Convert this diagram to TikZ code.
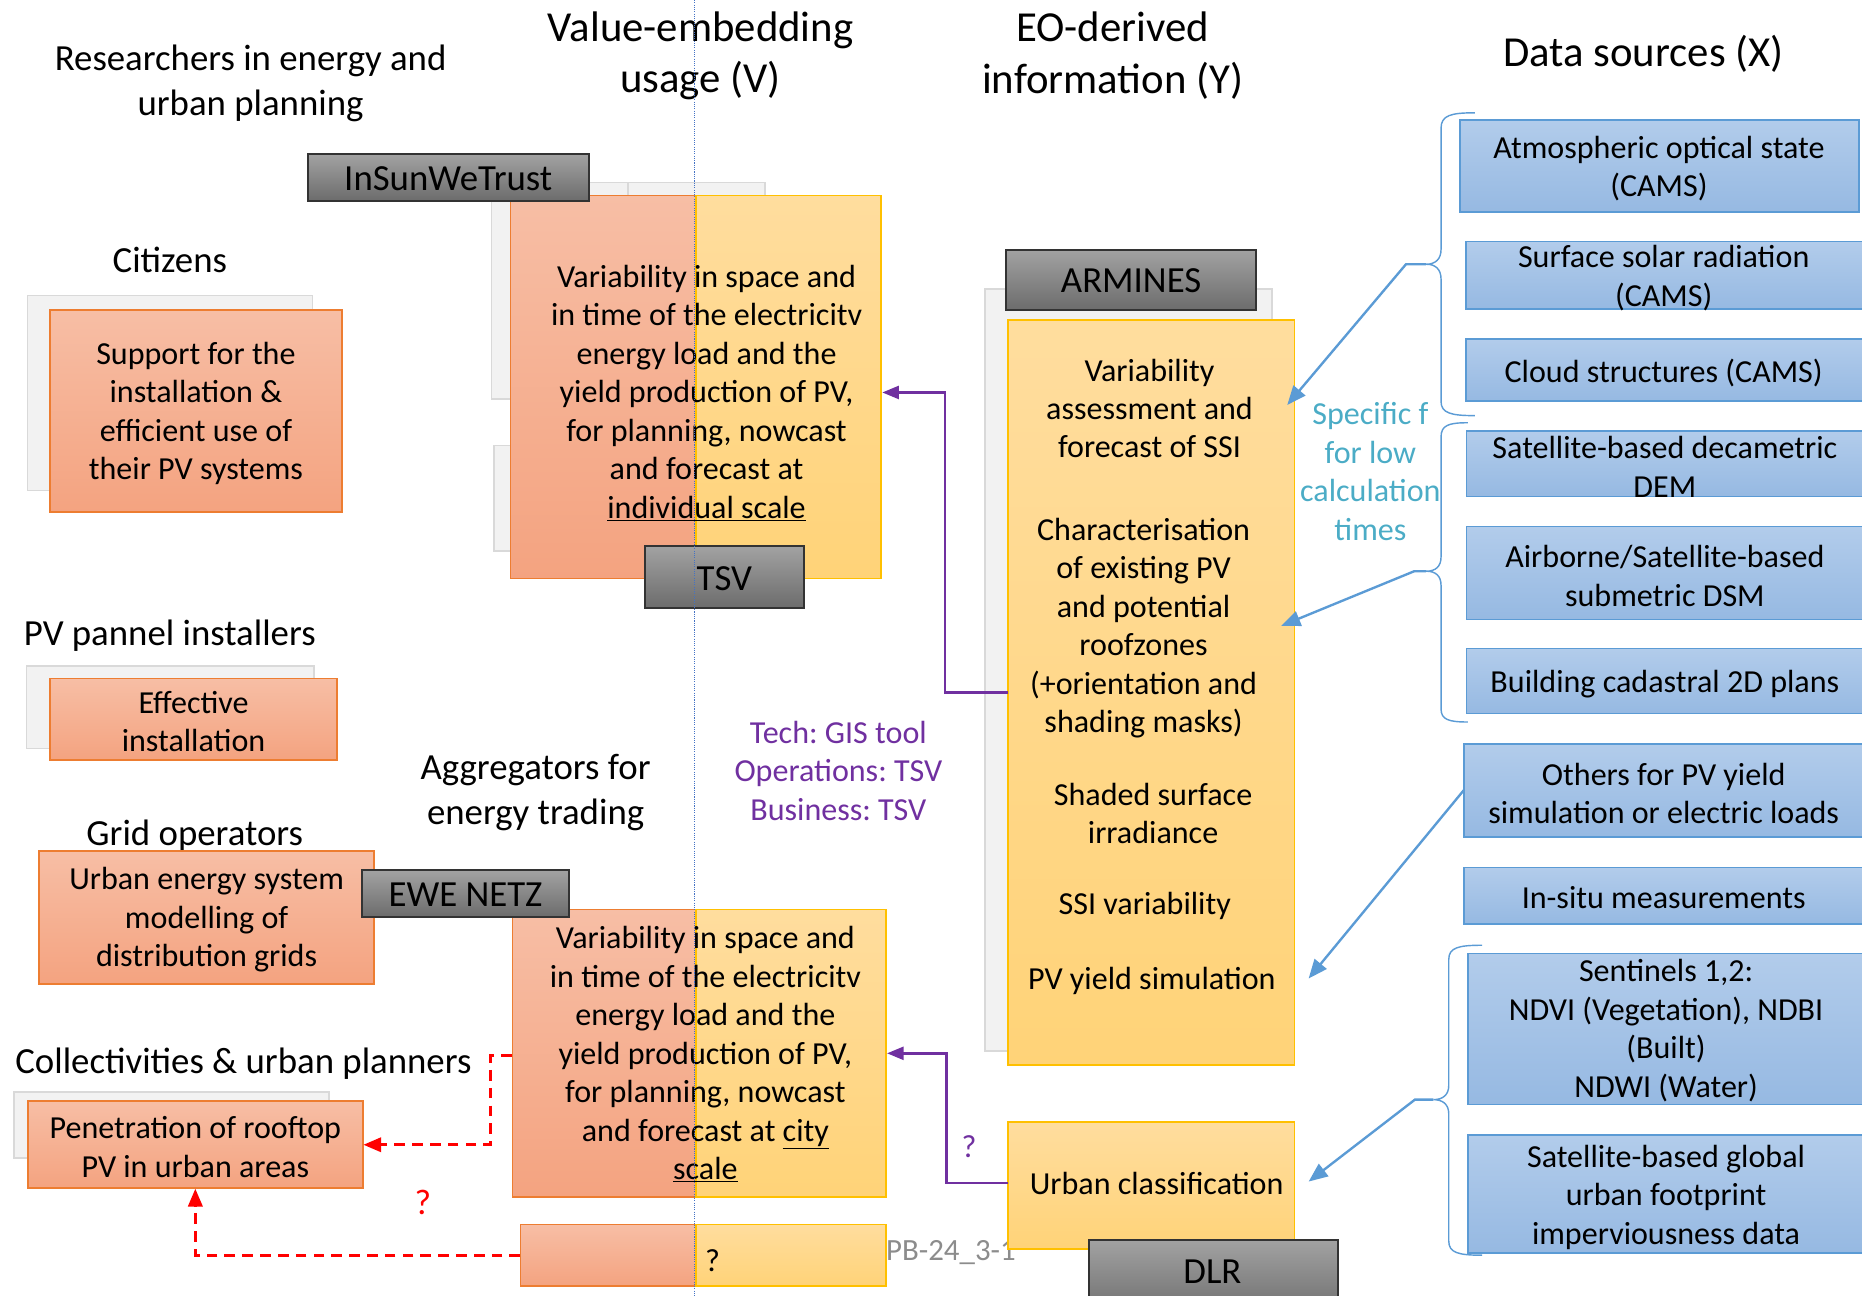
\documentclass[tikz,border=0pt]{standalone}
\usepackage{fontspec}
\setmainfont{Carlito}
\frenchspacing
\usetikzlibrary{arrows.meta,fit,calc}
\definecolor{salT}{RGB}{247,190,165}
\definecolor{salB}{RGB}{244,163,128}
\definecolor{salD}{RGB}{237,125,49}
\definecolor{yelT}{RGB}{255,221,158}
\definecolor{yelB}{RGB}{255,211,120}
\definecolor{yelD}{RGB}{255,192,0}
\definecolor{bluT}{RGB}{178,204,235}
\definecolor{bluB}{RGB}{150,185,226}
\definecolor{bluD}{RGB}{91,155,213}
\definecolor{labT}{RGB}{162,162,162}
\definecolor{labB}{RGB}{108,108,108}
\definecolor{shd}{RGB}{242,242,242}
\definecolor{shdD}{RGB}{217,217,217}
\definecolor{purp}{RGB}{112,48,160}
\definecolor{tealc}{RGB}{75,172,198}
\definecolor{dotb}{RGB}{68,114,196}
\definecolor{pbgray}{RGB}{140,140,140}
\tikzset{
  box/.style={inner sep=0pt, outer sep=0pt, line width=1.3pt},
  redbox/.style={box, draw=salD, top color=salT, bottom color=salB},
  yelbox/.style={box, draw=yelD, top color=yelT, bottom color=yelB},
  blubox/.style={box, draw=bluD, top color=bluT, bottom color=bluB},
  labbox/.style={box, draw=black!80, line width=1.6pt, top color=labT, bottom color=labB},
  shbox/.style={box, draw=shdD, fill=shd},
  body/.style={font=\fontsize{27}{32.4}\selectfont, align=center, inner sep=0pt, yshift=-2pt},
  head/.style={font=\fontsize{31}{38}\selectfont, align=center, inner sep=0pt, yshift=-2.5pt},
  big/.style={font=\fontsize{36}{43.5}\selectfont, align=center, inner sep=0pt, yshift=-2pt},
  labtxt/.style={font=\fontsize{31}{37}\selectfont, inner sep=0pt, yshift=-1pt},
  barrow/.style={draw=bluD, line width=2pt, -{Triangle[length=16pt,width=13pt]}},
  parrow/.style={draw=purp, line width=2pt, -{Triangle[length=14pt,width=11pt]}},
  rarrow/.style={draw=red, line width=2.5pt, dash pattern=on 9pt off 6pt, -{Triangle[length=15pt,width=12pt]}},
  bracel/.style={draw=bluD, line width=1.2pt},
}
\begin{document}
\begin{tikzpicture}[x=1pt,y=-1pt]
\useasboundingbox (0,0) rectangle (1568,1091);

% headers
\node[head] (hres) at (211,68) {Researchers in energy and\\urban planning};
\node[big] (hval) at (590,45) {Value-embedding\\usage (V)};
\node[big] (heo) at (937,45) {EO-derived\\information (Y)};
\node[big] (hdata) at (1384,43) {Data sources (X)};

% dotted vertical line
\coordinate (dtop) at (585,0);
\coordinate (dbot) at (585,1091);

% ---- left column ----
\node[head] (hcit) at (143,216) {Citizens};
\node[shbox, fit={(23,249) (263,413)}] (shcit) {};
\node[redbox, fit={(42,261) (288,431)}] (support) {};
\node[body] (tsupport) at (support.center) {Support for the\\installation \&\\efficient use of\\their PV systems};

\node[head] (hpv) at (143,533) {PV pannel installers};
\node[shbox, fit={(22.5,561) (264.5,630.5)}] (shpv) {};
\node[redbox, fit={(42,571.5) (284,640)}] (effect) {};
\node[body] (teffect) at (effect.center) {Effective\\installation};

\node[head] (hagg) at (451,665) {Aggregators for\\energy trading};

\node[head] (hgrid) at (164,701) {Grid operators};
\node[redbox, fit={(33,716.5) (315,828.5)}] (grid) {};
\node[body] (tgrid) at (grid.center) {Urban energy system\\modelling of\\distribution grids};

\node[head] (hcol) at (205,893) {Collectivities \& urban planners};
\node[shbox, fit={(12,919.5) (277,975)}] (shcol) {};
\node[redbox, fit={(23.5,927) (305.5,1000.5)}] (pen) {};
\node[body] (tpen) at (pen.center) {Penetration of rooftop\\PV in urban areas};

% ---- V column top ----
\node[shbox, fit={(414,153.5) (529,336)}] (shv1) {};
\node[shbox, fit={(529,153.5) (644,300)}] (shv2) {};
\node[shbox, fit={(416,375) (530,464)}] (shv3) {};
\node[redbox, fit={(430,164.5) (586,487)}] (tsvR) {};
\node[yelbox, fit={(586,164.5) (742,487)}] (tsvY) {};
\node[body] (ttsv) at (595,329) {Variability in space and\\in time of the electricitv\\energy load and the\\yield production of PV,\\for planning, nowcast\\and forecast at\\\underline{individual scale}};
\node[labbox, fit={(259,130) (496,169)}] (insun) {};
\node[labtxt] (tinsun) at (insun.center) {InSunWeTrust};
\node[labbox, fit={(543,460) (677,512)}] (tsvlab) {};
\node[labtxt] (ttsvlab) at (tsvlab.center) {TSV};

% ---- V column bottom ----
\node[redbox, fit={(431.5,766) (586,1008)}] (cityR) {};
\node[yelbox, fit={(586,766) (746,1008)}] (cityY) {};
\node[body] (tcity) at (594,886) {Variability in space and\\in time of the electricitv\\energy load and the\\yield production of PV,\\for planning, nowcast\\and forecast at \underline{city}\\\underline{scale}};
\node[labbox, fit={(305,733) (479,772)}] (ewe) {};
\node[labtxt] (tewe) at (ewe.center) {EWE NETZ};

\node[redbox, fit={(438.5,1031) (586,1083)}] (qR) {};
\node[yelbox, fit={(586,1031) (746,1083)}] (qY) {};
\node[body] (tq) at (600,1060) {?};
\node[font=\fontsize{26}{30}\selectfont, text=pbgray, anchor=west, inner sep=0pt] (pb) at (746,1055) {PB-24\_3-1};

\node[body, text=purp] (tech) at (706,647) {Tech: GIS tool\\Operations: TSV\\Business: TSV};

\draw[dotb, line width=0.9pt, densely dotted] (dtop) -- (dbot);

% ---- Y column ----
\node[shbox, fit={(829.5,243.5) (1071,885)}] (shy) {};
\node[yelbox, fit={(849,269.5) (1090,897)}] (armY) {};
\node[labbox, fit={(847,210.5) (1058,261)}] (arm) {};
\node[labtxt] (tarm) at (arm.center) {ARMINES};
\node[body] (y1) at (968,342) {Variability\\assessment and\\forecast of SSI};
\node[body] (y2) at (963,527) {Characterisation\\of existing PV\\and potential\\roofzones\\(+orientation and\\shading masks)};
\node[body] (y3) at (971,683) {Shaded surface\\irradiance};
\node[body] (y4) at (964,761) {SSI variability};
\node[body] (y5) at (970,824) {PV yield simulation};

\node[yelbox, fit={(849,945) (1090,1052)}] (urb) {};
\node[body] (turb) at (974,995) {Urban classification};
\node[labbox, fit={(917,1044) (1127,1110)}] (dlr) {};
\node[labtxt] (tdlr) at (1021,1070) {DLR};

\node[body, text=tealc] (spec) at (1154,395) {Specific f\\for low\\calculation\\times};

% ---- X column ----
\node[blubox, fit={(1229.5,101) (1565.5,178.5)}] (x1) {};
\node[body] (tx1) at (1397,140) {Atmospheric optical state\\(CAMS)};
\node[blubox, fit={(1234.5,203.5) (1580,260)}] (x2) {};
\node[body] (tx2) at (1401,232) {Surface solar radiation\\(CAMS)};
\node[blubox, fit={(1234.5,285.5) (1580,337.5)}] (x3) {};
\node[body] (tx3) at (1401,312) {Cloud structures (CAMS)};
\node[blubox, fit={(1235,363) (1580,418)}] (x4) {};
\node[body] (tx4) at (1402,391) {Satellite-based decametric\\DEM};
\node[blubox, fit={(1235,443.5) (1580,521.5)}] (x5) {};
\node[body] (tx5) at (1402,483) {Airborne/Satellite-based\\submetric DSM};
\node[blubox, fit={(1235,546) (1580,601)}] (x6) {};
\node[body] (tx6) at (1402,574) {Building cadastral 2D plans};
\node[blubox, fit={(1233,626.5) (1580,705)}] (x7) {};
\node[body] (tx7) at (1401,666) {Others for PV yield\\simulation or electric loads};
\node[blubox, fit={(1233,730.5) (1580,778)}] (x8) {};
\node[body] (tx8) at (1401,754) {In-situ measurements};
\node[blubox, fit={(1236,803) (1580,930)}] (x9) {};
\node[body] (tx9) at (1403,866) {Sentinels 1,2:\\NDVI (Vegetation), NDBI\\(Built)\\NDWI (Water)};
\node[blubox, fit={(1236,956) (1580,1055)}] (x10) {};
\node[body] (tx10) at (1403,1006) {Satellite-based global\\urban footprint\\imperviousness data};

% braces
\draw[bracel] (1242,95) .. controls (1222,95) and (1213.5,97) .. (1213.5,108) -- (1213.5,210)
  .. controls (1213.5,218) and (1209,222.5) .. (1201,222.5)
  .. controls (1209,222.5) and (1213.5,227) .. (1213.5,235) -- (1213.5,338)
  .. controls (1213.5,348) and (1222,350) .. (1242,350);
\coordinate (br1) at (1201,222.5);
\draw[bracel] (1236,356) .. controls (1220,356) and (1213.5,358) .. (1213.5,368) -- (1213.5,469)
  .. controls (1213.5,477) and (1209,481) .. (1201,481)
  .. controls (1209,481) and (1213.5,485) .. (1213.5,493) -- (1213.5,597)
  .. controls (1213.5,606) and (1220,608) .. (1236,608);
\coordinate (br2) at (1201,481);
\draw[bracel] (1248,796) .. controls (1228,796) and (1220,798) .. (1220,808) -- (1220,914)
  .. controls (1220,922) and (1215,926) .. (1207,926)
  .. controls (1215,926) and (1220,930) .. (1220,938) -- (1220,1045)
  .. controls (1220,1055) and (1228,1057) .. (1248,1057);
\coordinate (br3) at (1207,926);

% blue arrows
\coordinate (bt1) at (1084,341);
\coordinate (bt2) at (1079,527);
\coordinate (bs3) at (1233,665);
\coordinate (bt3) at (1102,824);
\coordinate (bt4) at (1102,995);
\draw[barrow] (br1) -- (1184,222.5) -- (bt1);
\draw[barrow] (br2) -- (1191,481) -- (bt2);
\draw[barrow] (bs3) -- (bt3);
\draw[barrow] (br3) -- (1191.5,926) -- (bt4);

% purple arrows
\coordinate (ps1) at (849,583);
\coordinate (pe1) at (743,330.5);
\coordinate (ps2) at (849,996);
\coordinate (pe2) at (747,887);
\draw[parrow] (ps1) -- (796,583) -- (796,330.5) -- (pe1);
\draw[parrow] (ps2) -- (797,996) -- (797,887) -- (pe2);
\node[body, text=purp] (pq) at (816,964) {?};

% red dashed arrows
\coordinate (rs1) at (431,889);
\coordinate (re1) at (306,964);
\coordinate (rs2) at (438,1057);
\coordinate (re2) at (164.5,1001);
\draw[rarrow] (rs1) -- (413,889) -- (413,964) -- (re1);
\draw[rarrow] (rs2) -- (164.5,1057) -- (re2);
\node[body, text=red, font=\fontsize{30}{36}\selectfont] (rq) at (356,1011) {?};
\end{tikzpicture}
\end{document}
